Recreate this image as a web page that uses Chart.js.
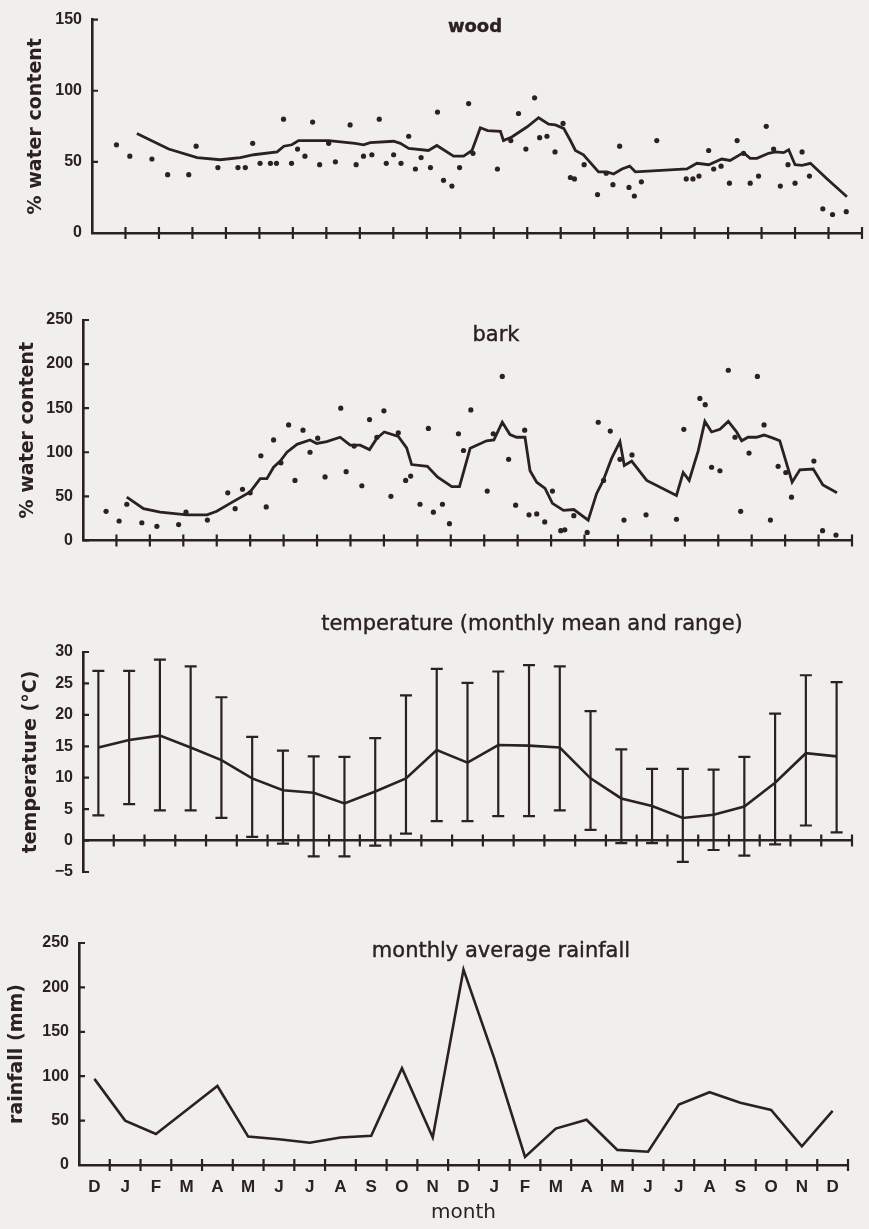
<!DOCTYPE html>
<html>
<head>
<meta charset="utf-8">
<script src="https://cdn.jsdelivr.net/npm/chart.js@4.4.1/dist/chart.umd.min.js"></script>
<style>
  html, body { margin: 0; padding: 0; background: #f1efec; }
  body { position: relative; width: 869px; height: 1229px; overflow: hidden; font-family: "DejaVu Sans", sans-serif; color: #2b2121; }
  canvas { position: absolute; left: 0; }
  .ttl { position: absolute; transform: translate(-50%, -50%); white-space: nowrap; font-size: 21px; -webkit-text-stroke: 0.4px #2b2121; }
</style>
</head>
<body>
<canvas id="wood" width="869" height="260" style="top:0px"></canvas>
<canvas id="bark" width="869" height="300" style="top:260px"></canvas>
<canvas id="temp" width="869" height="320" style="top:580px"></canvas>
<canvas id="rain" width="869" height="329" style="top:900px"></canvas>

<div class="ttl" style="left:475px;top:25px;font-weight:bold;font-size:18px">wood</div>
<div class="ttl" style="left:496px;top:334px">bark</div>
<div class="ttl" style="left:532px;top:623px">temperature (monthly mean and range)</div>
<div class="ttl" style="left:501px;top:950px">monthly average rainfall</div>

<script>
const ink = '#2b2121';

// month labels, Dec .. Dec
const months = ['D','J','F','M','A','M','J','J','A','S','O','N','D','J','F','M','A','M','J','J','A','S','O','N','D'];

// monthly rainfall (mm)
const rainfall = [97, 50, 35, 62, 89, 32, 29, 25, 31, 33, 109, 31, 220, 120, 9, 41, 51, 17, 15, 68, 82, 70, 62, 21, 61];

// temperature (deg C): monthly mean, max and min
const tempMean = [14.8, 16.0, 16.7, 14.8, 12.8, 9.9, 8.0, 7.6, 5.9, 7.8, 9.9, 14.4, 12.4, 15.2, 15.1, 14.8, 9.9, 6.7, 5.5, 3.6, 4.1, 5.4, 9.2, 13.9, 13.4];
const tempMax = [27, 27, 28.8, 27.7, 22.8, 16.5, 14.3, 13.4, 13.3, 16.3, 23.1, 27.3, 25.1, 26.9, 27.9, 27.7, 20.6, 14.5, 11.4, 11.4, 11.3, 13.3, 20.2, 26.3, 25.2];
const tempMin = [4.0, 5.8, 4.8, 4.8, 3.6, 0.6, -0.5, -2.5, -2.5, -0.8, 1.1, 3.1, 3.1, 3.9, 3.9, 4.8, 1.7, -0.4, -0.4, -3.4, -1.5, -2.4, -0.6, 2.4, 1.3];

// wood water content: samples (time in axis intervals, %)
const woodDotX = [0.73, 1.13, 1.79, 2.26, 2.89, 3.11, 3.76, 4.36, 4.58, 4.80, 5.02, 5.33, 5.51, 5.72, 5.96, 6.14, 6.36, 6.59, 6.80, 7.07,
  7.27, 7.71, 7.89, 8.11, 8.36, 8.58, 8.79, 9.01, 9.23, 9.46, 9.66, 9.83, 10.11, 10.32, 10.50, 10.75, 10.98, 11.25, 11.38, 12.11,
  12.51, 12.74, 12.96, 13.22, 13.37, 13.59, 13.83, 14.07, 14.29, 14.41, 14.70, 15.10, 15.36, 15.56, 15.76, 16.04, 16.20, 16.41, 16.87, 17.75,
  17.95, 18.13, 18.42, 18.57, 18.79, 19.04, 19.27, 19.46, 19.66, 19.91, 20.14, 20.36, 20.56, 20.79, 21.00, 21.21, 21.43, 21.83, 22.12, 22.53];
const woodDotY = [62, 54, 52, 41, 41, 61, 46, 46, 46, 63, 49, 49, 49, 80, 49, 59, 54, 78, 48, 63,
  50, 76, 48, 54, 55, 80, 49, 55, 49, 68, 45, 53, 46, 85, 37, 33, 46, 91, 56, 45,
  65, 84, 59, 95, 67, 68, 57, 77, 39, 38, 48, 27, 42, 34, 61, 32, 26, 36, 65, 38,
  38, 40, 58, 45, 47, 35, 65, 56, 35, 40, 75, 59, 33, 48, 35, 57, 40, 17, 13, 15];
// wood running mean
const woodLineX = [1.34, 2.29, 3.14, 3.83, 4.43, 4.83, 5.53, 5.73, 5.97, 6.17, 7.07, 7.86, 8.11, 8.31, 9.01, 9.21, 9.46, 10.05, 10.30, 10.80,
  11.10, 11.35, 11.60, 11.82, 12.20, 12.29, 12.54, 12.99, 13.34, 13.64, 13.84, 14.09, 14.29, 14.44, 14.68, 15.13, 15.38, 15.58, 15.83, 16.06,
  16.23, 17.77, 18.07, 18.42, 18.81, 19.06, 19.46, 19.66, 19.86, 20.21, 20.41, 20.66, 20.81, 21.00, 21.21, 21.46, 21.96, 22.55];
const woodLineY = [70, 59, 53, 51.5, 53, 55, 57, 61, 62, 65, 65, 63, 62, 63.5, 64.5, 63, 59.5, 58, 61.5, 54,
  54, 58, 74, 72, 71.5, 65, 67.5, 74.5, 81, 76.5, 76, 73.5, 65, 58, 55, 43, 43, 41.5, 45, 47,
  43, 45, 49, 48, 52, 51, 56.5, 52.5, 52.5, 56, 57, 56.5, 58.5, 48, 47.5, 49, 38, 25.5];

// bark water content: samples
const barkDotX = [0.69, 1.08, 1.31, 1.76, 2.21, 2.86, 3.08, 3.72, 4.33, 4.55, 4.77, 5.00, 5.32, 5.48, 5.70, 5.92, 6.15, 6.34, 6.58, 6.79,
  7.02, 7.24, 7.71, 7.87, 8.11, 8.34, 8.57, 8.79, 9.00, 9.21, 9.43, 9.65, 9.80, 10.08, 10.33, 10.48, 10.75, 10.96, 11.23, 11.38,
  11.60, 12.09, 12.27, 12.54, 12.73, 12.94, 13.21, 13.34, 13.57, 13.81, 14.04, 14.29, 14.41, 14.68, 15.08, 15.41, 15.57, 15.77, 16.06, 16.18,
  16.42, 16.84, 17.75, 17.97, 18.45, 18.61, 18.80, 19.05, 19.30, 19.50, 19.67, 19.92, 20.17, 20.37, 20.56, 20.79, 21.02, 21.19, 21.86, 22.12, 22.52];
const barkDotY = [33, 22, 41, 20, 16, 18, 32, 23, 54, 36, 58, 54, 96, 38, 114, 88, 131, 68, 125, 100,
  116, 72, 150, 78, 107, 62, 137, 117, 147, 50, 122, 68, 73, 41, 127, 32, 41, 19, 121, 102,
  148, 56, 121, 186, 92, 40, 125, 29, 30, 21, 56, 11, 12, 28, 9, 134, 68, 124, 92, 23,
  97, 29, 24, 126, 161, 154, 83, 79, 193, 117, 33, 99, 186, 131, 23, 84, 77, 49, 90, 11, 6];
// bark running mean
const barkLineX = [1.31, 1.81, 2.31, 3.11, 3.71, 4.00, 4.40, 5.00, 5.30, 5.50, 5.70, 5.90, 6.10, 6.40, 6.79, 6.99, 7.29, 7.69, 7.99, 8.29,
  8.57, 8.79, 9.01, 9.43, 9.68, 9.83, 10.30, 10.60, 11.03, 11.26, 11.58, 12.07, 12.29, 12.54, 12.77, 12.97, 13.22, 13.37, 13.57, 13.82,
  14.04, 14.37, 14.68, 15.11, 15.36, 15.56, 15.81, 16.06, 16.19, 16.41, 16.86, 17.75, 17.95, 18.13, 18.40, 18.60, 18.80, 19.05, 19.30, 19.55,
  19.70, 19.89, 20.14, 20.37, 20.64, 20.84, 21.21, 21.44, 21.84, 22.13, 22.55];
const barkLineY = [49, 36, 32, 29, 29, 33, 42, 55, 70, 70, 83, 90, 100, 109, 114, 110, 112, 117, 108, 108,
  103, 116, 123, 118, 105, 86, 84, 72, 61, 61, 104.5, 113, 114, 134, 120, 117, 117, 79, 66, 59,
  42, 34, 35, 23, 53, 68, 93, 112, 85, 90, 68, 51, 77, 68, 101.5, 135, 123, 126, 135, 123,
  113, 117, 117, 119.5, 116, 113, 66, 80, 81, 63, 54];

const pts = (xs, ys) => xs.map((x, i) => ({x: x, y: ys[i]}));

// tick marks: crossing on the x axis, pointing inward on the y axis
const axisMarks = {
  id: 'axisMarks',
  afterDatasetsDraw(chart) {
    const ctx = chart.ctx, x = chart.scales.x, y = chart.scales.y;
    const pos = x.options.position;
    const yAt = typeof pos === 'object' ? y.getPixelForValue(pos.y) : y.bottom;
    const xs = [];
    if (x.type === 'category') {
      const step = x.getPixelForValue(1) - x.getPixelForValue(0);
      for (let i = 1; i <= x.getLabels().length; i++) xs.push(x.getPixelForValue(i) - step / 2);
    } else {
      for (let v = x.min + 1; v <= x.max; v++) xs.push(x.getPixelForValue(v));
    }
    ctx.save();
    ctx.strokeStyle = ink;
    ctx.lineWidth = 2.2;
    ctx.beginPath();
    xs.forEach(px => { ctx.moveTo(px, yAt - 6); ctx.lineTo(px, yAt + 6); });
    y.ticks.forEach(t => {
      const py = y.getPixelForValue(t.value);
      ctx.moveTo(x.left, py); ctx.lineTo(x.left + 6, py);
    });
    ctx.stroke();
    ctx.restore();
  }
};

// monthly range bars for the temperature panel
const rangeBars = {
  id: 'rangeBars',
  afterDatasetsDraw(chart) {
    const ctx = chart.ctx, x = chart.scales.x, y = chart.scales.y;
    ctx.save();
    ctx.strokeStyle = ink;
    ctx.lineWidth = 2.2;
    ctx.beginPath();
    tempMin.forEach((lo, i) => {
      const px = x.getPixelForValue(i);
      const top = y.getPixelForValue(tempMax[i]), bot = y.getPixelForValue(lo);
      ctx.moveTo(px, top); ctx.lineTo(px, bot);
      ctx.moveTo(px - 6, top); ctx.lineTo(px + 6, top);
      ctx.moveTo(px - 6, bot); ctx.lineTo(px + 6, bot);
    });
    ctx.stroke();
    ctx.restore();
  }
};

const tickFont = {family: 'Liberation Sans', weight: 'bold', size: 16};
const titleFont = {family: 'DejaVu Sans', weight: 'bold', size: 19};

function yAxis(min, max, step, width, title, titlePad) {
  return {
    min: min, max: max,
    afterFit: s => { s.width = width; },
    ticks: {stepSize: step, padding: 10, color: ink, font: tickFont,
            callback: v => v < 0 ? '\u2212' + Math.abs(v) : v},
    grid: {display: false, drawTicks: false},
    border: {color: ink, width: 2.6},
    title: {display: true, text: title, color: ink, font: titleFont, padding: {top: titlePad, bottom: 0}}
  };
}

function timeAxis(height) {
  return {
    type: 'linear', min: 0, max: 23,
    afterFit: s => { s.height = height; },
    ticks: {display: false, stepSize: 1},
    grid: {display: false, drawTicks: false},
    border: {color: ink, width: 2.6}
  };
}

const common = {
  responsive: false,
  animation: false,
  plugins: {legend: {display: false}, tooltip: {enabled: false}}
};

function waterChart(id, dotX, dotY, lineX, lineY, yMax, yWidth, right, top, xHeight, titlePad) {
  new Chart(document.getElementById(id), {
    type: 'scatter',
    data: {
      datasets: [
        {data: pts(dotX, dotY), pointRadius: 2.6, pointBackgroundColor: ink, pointBorderWidth: 0},
        {data: pts(lineX, lineY), showLine: true, pointRadius: 0, borderColor: ink, borderWidth: 2.8}
      ]
    },
    options: Object.assign({}, common, {
      layout: {padding: {top: top, right: 869 - right, bottom: 0, left: 0}},
      scales: {
        x: timeAxis(xHeight),
        y: yAxis(0, yMax, 50, yWidth, '% water content', titlePad)
      }
    }),
    plugins: [axisMarks]
  });
}

waterChart('wood', woodDotX, woodDotY, woodLineX, woodLineY, 150, 92, 862, 14, 27, 25);
waterChart('bark', barkDotX, barkDotY, barkLineX, barkLineY, 250, 83, 852, 60, 18, 17);

new Chart(document.getElementById('temp'), {
  type: 'line',
  data: {
    labels: months,
    datasets: [{data: tempMean, borderColor: ink, borderWidth: 2.6, pointRadius: 0}]
  },
  options: Object.assign({}, common, {
    layout: {padding: {top: 72, right: 869 - 852, bottom: 28, left: 0}},
    scales: {
      x: {
        type: 'category', offset: true, position: {y: 0},
        ticks: {display: false},
        grid: {display: false, drawTicks: false},
        border: {color: ink, width: 2.6}
      },
      y: yAxis(-5, 30, 5, 83, 'temperature (\u00B0C)', 20)
    }
  }),
  plugins: [rangeBars, axisMarks]
});

new Chart(document.getElementById('rain'), {
  type: 'line',
  data: {
    labels: months,
    datasets: [{data: rainfall, borderColor: ink, borderWidth: 2.6, pointRadius: 0}]
  },
  options: Object.assign({}, common, {
    layout: {padding: {top: 43, right: 869 - 848, bottom: 0, left: 0}},
    scales: {
      x: {
        type: 'category', offset: true,
        afterFit: s => { s.height = 64; },
        ticks: {color: ink, font: {family: 'Liberation Sans', weight: 'bold', size: 17}, padding: 12, autoSkip: false, maxRotation: 0},
        grid: {display: false, drawTicks: false},
        border: {color: ink, width: 2.6},
        title: {display: true, text: 'month', color: ink, font: {family: 'DejaVu Sans', size: 20}, padding: {top: 0, bottom: 4}}
      },
      y: yAxis(0, 250, 50, 79, 'rainfall (mm)', 6)
    }
  }),
  plugins: [axisMarks]
});
</script>
</body>
</html>
